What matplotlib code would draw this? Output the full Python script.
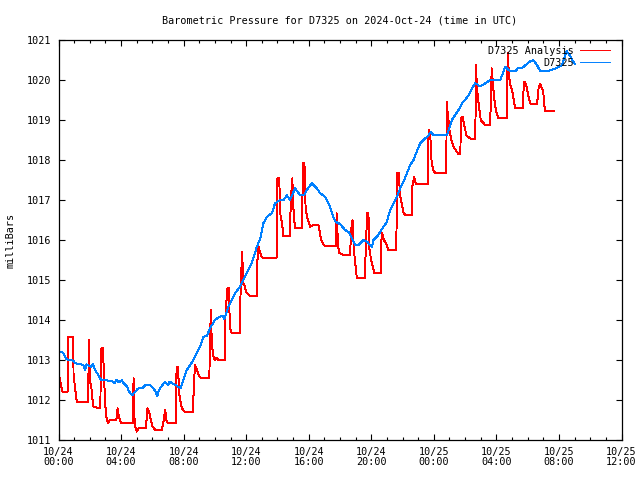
import matplotlib
matplotlib.use("Agg")
import matplotlib.pyplot as plt
from matplotlib.ticker import MultipleLocator

# ---- data (hours since 2024-10-24 00:00 UTC, pressure in mbar) ----
obs_hours = [0.0, 0.25, 0.52, 0.95, 1.06, 1.59, 1.7, 1.8, 2.1, 2.2, 2.33, 2.55, 2.72, 3.4, 3.6, 3.7,
             3.85, 4.05, 4.1, 4.4, 4.51, 4.72, 4.9, 5.1, 5.35, 5.54, 5.85, 6.0, 6.15, 6.32, 6.42, 6.81,
             7.0, 7.1, 7.5, 7.8, 7.98, 8.2, 8.5, 8.73, 9.05, 9.27, 9.48, 9.69, 10.0, 10.3, 10.5, 10.6,
             10.87, 11.29, 11.6, 12.04, 12.36, 12.68, 12.9, 13.1, 13.32, 13.64, 13.85, 14.17, 14.4,
             14.6, 14.8, 15.13, 15.45, 15.7, 15.88, 16.2, 16.5, 16.73, 17.0, 17.16, 17.37, 17.48, 17.7,
             18.0, 18.33, 18.55, 18.76, 18.97, 19.2, 19.5, 19.75, 20.04, 20.14, 20.4, 20.78, 21.0,
             21.2, 21.42, 21.64, 21.85, 22.05, 22.28, 22.49, 22.7, 22.9, 23.13, 23.35, 23.66, 23.8,
             24.0, 24.84, 25.0, 25.15, 25.35, 25.58, 25.8, 26.0, 26.22, 26.43, 26.65, 26.97, 27.3,
             27.6, 28.25, 28.46, 28.57, 28.76, 29.0, 29.2, 29.4, 29.65, 29.85, 30.17, 30.36, 30.6,
             30.8, 31.23, 31.87, 32.2, 32.4, 32.5, 32.72, 33.0]
obs_values = [1013.19, 1013.2, 1013.02, 1012.98, 1012.92, 1012.88, 1012.75, 1012.89, 1012.83, 1012.9,
              1012.75, 1012.62, 1012.5, 1012.48, 1012.42, 1012.5, 1012.44, 1012.5, 1012.45, 1012.33,
              1012.21, 1012.12, 1012.21, 1012.29, 1012.29, 1012.37, 1012.37, 1012.31, 1012.25, 1012.1,
              1012.25, 1012.46, 1012.37, 1012.46, 1012.37, 1012.29, 1012.5, 1012.75, 1012.92, 1013.08,
              1013.33, 1013.58, 1013.6, 1013.79, 1014.0, 1014.08, 1014.1, 1014.02, 1014.33, 1014.67,
              1014.83, 1015.17, 1015.42, 1015.83, 1016.04, 1016.42, 1016.58, 1016.67, 1016.92, 1017.0,
              1017.0, 1017.12, 1017.0, 1017.29, 1017.12, 1017.12, 1017.25, 1017.42, 1017.3, 1017.17,
              1017.1, 1017.0, 1016.83, 1016.67, 1016.46, 1016.4, 1016.25, 1016.2, 1016.04, 1015.88,
              1015.88, 1016.0, 1015.95, 1015.83, 1016.0, 1016.1, 1016.33, 1016.45, 1016.75, 1016.92,
              1017.08, 1017.29, 1017.45, 1017.67, 1017.88, 1018.0, 1018.2, 1018.42, 1018.5, 1018.62,
              1018.7, 1018.62, 1018.62, 1018.8, 1019.0, 1019.12, 1019.25, 1019.42, 1019.5, 1019.62,
              1019.79, 1019.92, 1019.84, 1019.92, 1020.0, 1020.0, 1020.22, 1020.33, 1020.25, 1020.22,
              1020.22, 1020.3, 1020.3, 1020.37, 1020.47, 1020.5, 1020.37, 1020.22, 1020.22, 1020.3,
              1020.37, 1020.6, 1020.72, 1020.6, 1020.4]

ana_hours = [0.0, 0.1, 0.25, 0.59, 0.6, 0.62, 0.95, 0.96, 1.0, 1.06, 1.17, 1.9, 1.92, 1.95, 2.0, 2.1,
             2.12, 2.23, 2.68, 2.7, 2.75, 2.85, 2.9, 3.0, 3.05, 3.15, 3.3, 3.7, 3.78, 3.85, 4.0, 4.75,
             4.8, 4.85, 4.9, 5.0, 5.1, 5.6, 5.67, 5.8, 5.9, 6.0, 6.18, 6.6, 6.7, 6.82, 6.9, 7.0, 7.5,
             7.55, 7.65, 7.7, 7.8, 7.9, 8.05, 8.6, 8.65, 8.73, 8.85, 9.0, 9.16, 9.65, 9.67, 9.75, 9.8,
             9.9, 10.0, 10.1, 10.23, 10.66, 10.68, 10.8, 10.9, 10.95, 11.0, 11.08, 11.6, 11.65, 11.75,
             11.8, 11.9, 12.0, 12.25, 12.68, 12.72, 12.8, 12.9, 13.0, 13.1, 13.94, 13.97, 14.0, 14.12,
             14.15, 14.2, 14.3, 14.38, 14.8, 14.85, 14.95, 15.0, 15.05, 15.13, 15.55, 15.6, 15.65,
             15.72, 15.77, 15.8, 15.95, 16.09, 16.3, 16.62, 16.7, 16.8, 16.9, 17.0, 17.76, 17.78,
             17.85, 17.9, 17.97, 18.3, 18.65, 18.7, 18.8, 18.88, 18.95, 19.08, 19.6, 19.65, 19.75,
             19.82, 19.85, 19.95, 20.05, 20.19, 20.6, 20.65, 20.7, 20.8, 20.9, 21.0, 21.1, 21.6,
             21.63, 21.65, 21.75, 21.85, 21.95, 22.05, 22.17, 22.6, 22.62, 22.75, 22.85, 23.6, 23.63,
             23.7, 23.78, 23.85, 23.95, 24.09, 24.8, 24.82, 24.88, 25.0, 25.15, 25.3, 25.58, 25.7,
             25.72, 25.85, 25.95, 26.1, 26.43, 26.65, 26.7, 26.75, 26.9, 27.0, 27.29, 27.6, 27.7,
             27.8, 27.9, 28.0, 28.14, 28.67, 28.72, 28.78, 28.85, 28.95, 29.05, 29.2, 29.7, 29.75,
             29.85, 29.95, 30.05, 30.15, 30.27, 30.6, 30.7, 30.8, 30.9, 31.0, 31.05, 31.13, 31.66]
ana_values = [1012.67, 1012.5, 1012.21, 1012.21, 1013.08, 1013.57, 1013.57, 1012.67, 1012.5, 1012.3,
              1011.96, 1011.96, 1012.75, 1013.5, 1012.46, 1012.35, 1012.2, 1011.83, 1011.79, 1013.04,
              1013.29, 1013.29, 1012.63, 1011.83, 1011.6, 1011.42, 1011.5, 1011.5, 1011.79, 1011.6,
              1011.42, 1011.42, 1012.54, 1011.6, 1011.35, 1011.21, 1011.29, 1011.29, 1011.79, 1011.7,
              1011.5, 1011.35, 1011.25, 1011.25, 1011.42, 1011.75, 1011.5, 1011.42, 1011.42, 1012.83,
              1012.83, 1012.2, 1011.96, 1011.79, 1011.71, 1011.71, 1012.33, 1012.88, 1012.75, 1012.6,
              1012.54, 1012.54, 1013.42, 1014.25, 1013.4, 1013.1, 1013.0, 1013.05, 1013.0, 1013.0,
              1014.17, 1014.79, 1014.79, 1013.9, 1013.75, 1013.68, 1013.68, 1014.92, 1015.71, 1014.92,
              1014.85, 1014.7, 1014.6, 1014.6, 1015.5, 1015.83, 1015.67, 1015.58, 1015.54, 1015.54,
              1016.08, 1017.54, 1017.54, 1016.96, 1016.6, 1016.4, 1016.1, 1016.1, 1016.96, 1017.54,
              1016.96, 1016.6, 1016.29, 1016.29, 1017.1, 1017.92, 1017.92, 1017.5, 1016.75, 1016.5,
              1016.33, 1016.37, 1016.37, 1016.2, 1016.0, 1015.92, 1015.86, 1015.86, 1016.67, 1016.1,
              1015.8, 1015.67, 1015.62, 1015.62, 1016.2, 1016.5, 1015.8, 1015.5, 1015.04, 1015.04,
              1015.9, 1016.67, 1016.67, 1015.85, 1015.6, 1015.4, 1015.18, 1015.18, 1016.0, 1016.17,
              1016.0, 1015.95, 1015.85, 1015.75, 1015.75, 1017.0, 1017.67, 1017.67, 1017.1, 1016.9,
              1016.7, 1016.62, 1016.62, 1017.33, 1017.57, 1017.4, 1017.4, 1018.54, 1018.75, 1018.55,
              1018.0, 1017.75, 1017.67, 1017.67, 1019.46, 1019.2, 1018.75, 1018.45, 1018.3, 1018.15,
              1018.15, 1019.04, 1019.08, 1018.85, 1018.6, 1018.52, 1018.52, 1020.37, 1019.8, 1019.3,
              1019.0, 1018.87, 1018.87, 1020.29, 1019.8, 1019.4, 1019.2, 1019.04, 1019.04, 1020.67,
              1020.29, 1019.95, 1019.8, 1019.65, 1019.29, 1019.29, 1019.94, 1019.94, 1019.8, 1019.6,
              1019.42, 1019.4, 1019.4, 1019.8, 1019.9, 1019.8, 1019.7, 1019.4, 1019.22, 1019.22]

tick_hours = [0, 4, 8, 12, 16, 20, 24, 28, 32, 36]
tick_labels = ["10/24\n00:00", "10/24\n04:00", "10/24\n08:00", "10/24\n12:00", "10/24\n16:00",
               "10/24\n20:00", "10/25\n00:00", "10/25\n04:00", "10/25\n08:00", "10/25\n12:00"]
y_ticks = list(range(1011, 1022))

title = "Barometric Pressure for D7325 on 2024-Oct-24 (time in UTC)"
ylabel = "milliBars"
label_ana = "D7325 Analysis"
label_obs = "D7325"

# ---- plot ----
plt.rcParams["font.family"] = ["DejaVu Sans Mono"]
FS = 7.3

fig = plt.figure(figsize=(6.4, 4.8), dpi=100)
ax = fig.add_axes([58.5 / 640, 40 / 480, 563 / 640, 400 / 480])

ax.plot(ana_hours, ana_values, color="#ff0000", lw=0.7, antialiased=False, label=label_ana)
ax.plot(obs_hours, obs_values, color="#0080ff", lw=0.7, antialiased=False, label=label_obs)

ax.set_xlim(0, 36)
ax.set_ylim(1011, 1021)
ax.set_xticks(tick_hours)
ax.set_xticklabels(tick_labels, fontsize=FS, linespacing=1.05)
ax.xaxis.set_minor_locator(MultipleLocator(1))
ax.set_yticks(y_ticks)
ax.set_yticklabels([str(v) for v in y_ticks], fontsize=FS)

ax.tick_params(axis="both", which="major", direction="in", length=4.5, width=0.8,
               top=True, right=True, pad=5)
ax.tick_params(axis="x", which="minor", direction="in", length=2.5, width=0.8, top=True)
for s in ax.spines.values():
    s.set_linewidth(0.9)

ax.set_title(title, fontsize=FS, pad=12)
ax.set_ylabel(ylabel, fontsize=FS, labelpad=8)

ax.legend(loc="upper right", bbox_to_anchor=((610 - 58.5) / 563, (440 - 46) / 400),
          frameon=False, markerfirst=False, fontsize=FS, handlelength=3.0,
          handletextpad=0.55, borderpad=0, borderaxespad=0, labelspacing=0.2)

fig.savefig("out.png", dpi=100)
